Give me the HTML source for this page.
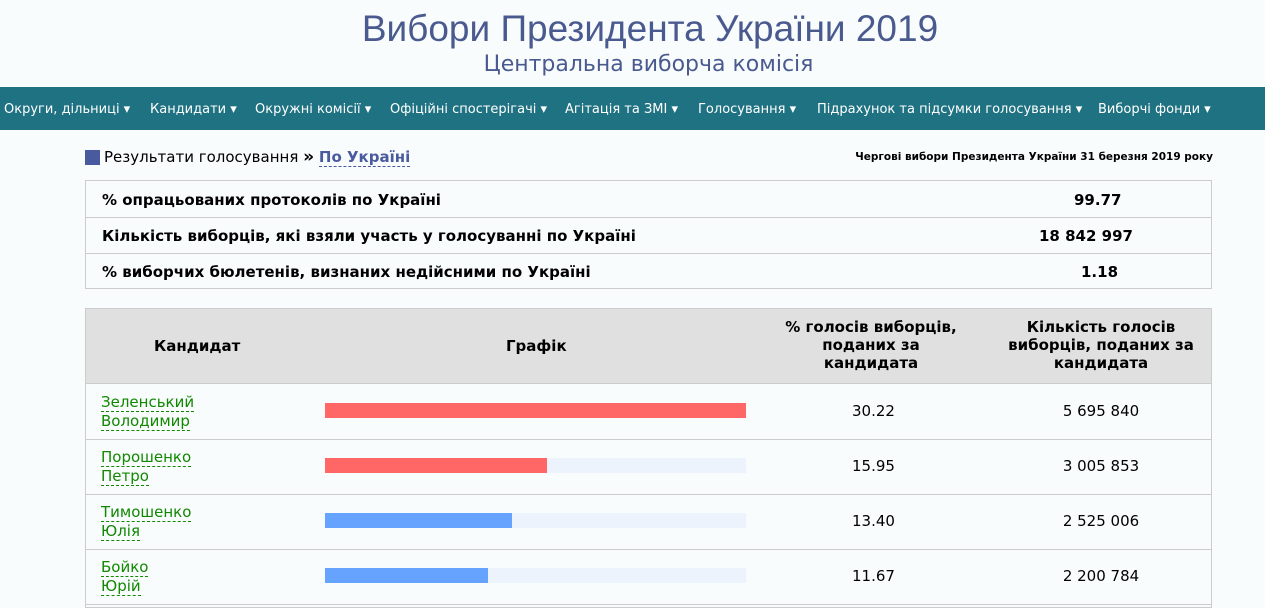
<!DOCTYPE html><html><head><meta charset="utf-8"><style>
body{margin:0;background:#f8fcfd;font-family:"DejaVu Sans","Liberation Sans",sans-serif;width:1265px;height:601px;overflow:hidden;position:relative;color:#000}
.a{position:absolute}
h1{position:absolute;top:8px;left:0;width:1300px;text-align:center;margin:0;font-weight:normal;font-size:37px;color:#4a5a8f;font-family:"Liberation Sans",sans-serif}
.sub{top:52px;left:0;width:1297px;text-align:center;font-size:22px;color:#4a5a8f}
.nav{top:87px;left:0;width:1265px;height:43px;background:#1f7282;color:#fff;font-size:13px}
.nav span{position:absolute;top:15px;white-space:nowrap}
.box{left:85px;width:1127px;border:1px solid #ccc;box-sizing:border-box}
.row{position:absolute;left:0;width:1125px;height:36px;border-bottom:1px solid #ccc;font-weight:bold;font-size:15px}
.row span{position:absolute;top:10px}
.bar{position:absolute;left:239px;width:421px;height:15px;background:#edf3fd}
.bar i{display:block;height:15px}
.nm{position:absolute;left:15px;color:#118800;font-size:15px;line-height:19px}
.nm u{text-decoration:none;border-bottom:1px dashed #118800}
.num{position:absolute;text-align:center;font-size:15px}
</style></head><body>
<h1>Вибори Президента України 2019</h1>
<div class="a sub">Центральна виборча комісія</div>
<div class="a nav">
<span style="left:4px">Округи, дільниці ▾</span>
<span style="left:150px">Кандидати ▾</span>
<span style="left:255px">Окружні комісії ▾</span>
<span style="left:390px">Офіційні спостерігачі ▾</span>
<span style="left:565px">Агітація та ЗМІ ▾</span>
<span style="left:698px">Голосування ▾</span>
<span style="left:817px">Підрахунок та підсумки голосування ▾</span>
<span style="left:1098px">Виборчі фонди ▾</span>
</div>
<div class="a" style="left:85px;top:150px;width:15px;height:15px;background:#4a5a9f"></div>
<div class="a" style="left:104px;top:147px;font-size:15px">Результати голосування <b style="font-size:17px">»</b> <b style="color:#4a5a9f;border-bottom:1px dashed #4a5a9f">По Україні</b></div>
<div class="a" style="right:52px;top:151px;font-size:10.5px;font-weight:bold">Чергові вибори Президента України 31 березня 2019 року</div>
<div class="a box" style="top:180px;height:109px;">
<div class="row" style="top:0"><span style="left:16px">% опрацьованих протоколів по Україні</span><span style="left:988px">99.77</span></div>
<div class="row" style="top:36px"><span style="left:16px">Кількість виборців, які взяли участь у голосуванні по Україні</span><span style="left:953px">18 842 997</span></div>
<div class="row" style="top:72px;border:0"><span style="left:16px">% виборчих бюлетенів, визнаних недійсними по Україні</span><span style="left:995px">1.18</span></div>
</div>
<div class="a box" style="top:308px;height:300px;">
<div class="a" style="left:0;top:0;width:1125px;height:74px;background:#e0e0e0;border-bottom:1px solid #ccc;font-weight:bold;font-size:15px">
<span class="a" style="left:68px;top:28px">Кандидат</span>
<span class="a" style="left:420px;top:28px">Графік</span>
<span class="a" style="left:690px;top:9px;width:190px;text-align:center;line-height:18px">% голосів виборців, поданих за кандидата</span>
<span class="a" style="left:915px;top:9px;width:200px;text-align:center;line-height:18px">Кількість голосів виборців, поданих за кандидата</span>
</div>
<div class="a" style="top:75px;left:0;width:1125px">
<div style="position:absolute;top:0;height:55px;width:1125px;border-bottom:1px solid #ccc">
<div class="nm" style="top:9px"><u>Зеленський</u><br><u>Володимир</u></div>
<div class="bar" style="top:19px"><i style="width:421px;background:#ff6666"></i></div>
<div class="num" style="left:690px;width:195px;top:18px">30.22</div><div class="num" style="left:910px;width:210px;top:18px">5 695 840</div></div>
<div style="position:absolute;top:55px;height:55px;width:1125px;border-bottom:1px solid #ccc">
<div class="nm" style="top:9px"><u>Порошенко</u><br><u>Петро</u></div>
<div class="bar" style="top:19px"><i style="width:222px;background:#ff6666"></i></div>
<div class="num" style="left:690px;width:195px;top:18px">15.95</div><div class="num" style="left:910px;width:210px;top:18px">3 005 853</div></div>
<div style="position:absolute;top:110px;height:55px;width:1125px;border-bottom:1px solid #ccc">
<div class="nm" style="top:9px"><u>Тимошенко</u><br><u>Юлія</u></div>
<div class="bar" style="top:19px"><i style="width:187px;background:#66a3ff"></i></div>
<div class="num" style="left:690px;width:195px;top:18px">13.40</div><div class="num" style="left:910px;width:210px;top:18px">2 525 006</div></div>
<div style="position:absolute;top:165px;height:55px;width:1125px;border-bottom:1px solid #ccc">
<div class="nm" style="top:9px"><u>Бойко</u><br><u>Юрій</u></div>
<div class="bar" style="top:19px"><i style="width:163px;background:#66a3ff"></i></div>
<div class="num" style="left:690px;width:195px;top:18px">11.67</div><div class="num" style="left:910px;width:210px;top:18px">2 200 784</div></div>
</div></div>
</body></html>
